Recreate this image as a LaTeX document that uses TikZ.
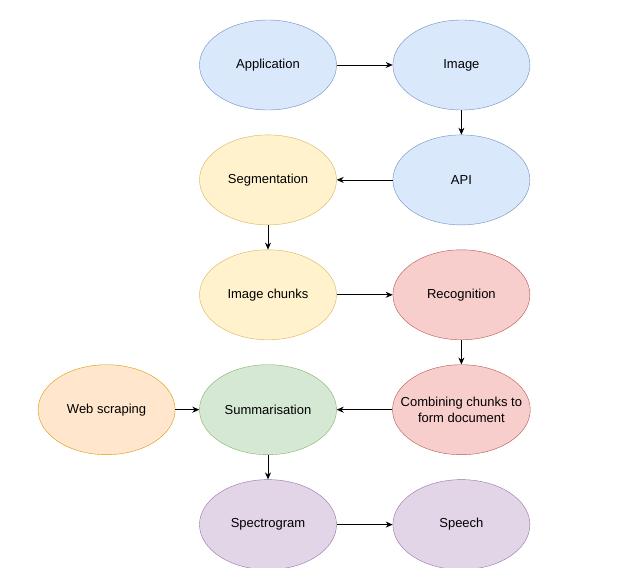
\documentclass[tikz,border=0pt]{standalone}
\usepackage{fontspec}
\setmainfont{Liberation Sans}
\usetikzlibrary{shapes.geometric,positioning,arrows.meta}

\definecolor{bluefill}{HTML}{DAE8FC}\definecolor{blueline}{HTML}{6C8EBF}
\definecolor{yellowfill}{HTML}{FFF2CC}\definecolor{yellowline}{HTML}{D6B656}
\definecolor{redfill}{HTML}{F8CECC}\definecolor{redline}{HTML}{B85450}
\definecolor{greenfill}{HTML}{D5E8D4}\definecolor{greenline}{HTML}{82B366}
\definecolor{purplefill}{HTML}{E1D5E7}\definecolor{purpleline}{HTML}{9673A6}
\definecolor{orangefill}{HTML}{FFE6CC}\definecolor{orangeline}{HTML}{D79B00}

\begin{document}
\begin{tikzpicture}[font=\fontsize{13}{15.5}\selectfont, node distance=24.5pt and 56pt]
  \tikzset{stage/.style={ellipse,draw,align=center,inner sep=0pt,minimum width=137pt,minimum height=90pt},
           flow/.style={-{Stealth[length=7pt,width=6pt]},line width=0.8pt}}
  \useasboundingbox (0,0) rectangle (619pt,-568pt);
  \node[stage,fill=bluefill,draw=blueline] (app) at (268pt,-65pt) {Application};
  \node[stage,fill=bluefill,draw=blueline,right=of app] (image) {Image};
  \node[stage,fill=bluefill,draw=blueline,below=of image] (api) {API};
  \node[stage,fill=yellowfill,draw=yellowline,below=of app] (seg) {Segmentation};
  \node[stage,fill=yellowfill,draw=yellowline,below=of seg] (chunks) {Image chunks};
  \node[stage,fill=redfill,draw=redline,below=of api] (recog) {Recognition};
  % long text: shrink the padding so the ellipse keeps its size
  \node[stage,fill=redfill,draw=redline,below=of recog,inner xsep=-12pt] (combine) {Combining chunks to\\form document};
  \node[stage,fill=greenfill,draw=greenline,below=of chunks] (summ) {Summarisation};
  \node[stage,fill=orangefill,draw=orangeline,left=24pt of summ] (web) {Web scraping};
  \node[stage,fill=purplefill,draw=purpleline,below=of summ] (spec) {Spectrogram};
  \node[stage,fill=purplefill,draw=purpleline,below=of combine] (speech) {Speech};
  \draw[flow] (app) -- (image);
  \draw[flow] (image) -- (api);
  \draw[flow] (api) -- (seg);
  \draw[flow] (seg) -- (chunks);
  \draw[flow] (chunks) -- (recog);
  \draw[flow] (recog) -- (combine);
  \draw[flow] (combine) -- (summ);
  \draw[flow] (web) -- (summ);
  \draw[flow] (summ) -- (spec);
  \draw[flow] (spec) -- (speech);
\end{tikzpicture}
\end{document}
